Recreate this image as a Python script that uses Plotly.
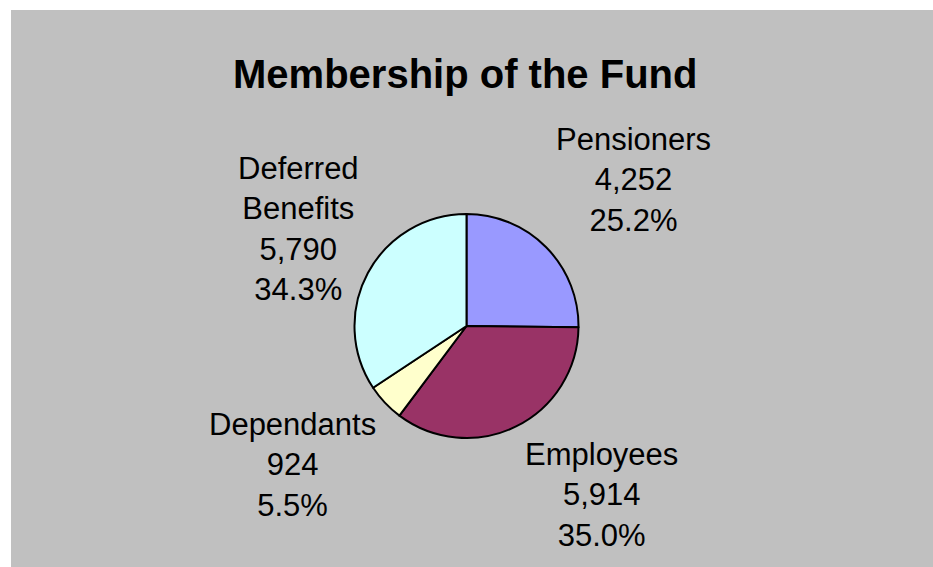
import plotly.graph_objects as go

# Fund membership by category
categories = ["Pensioners", "Employees", "Dependants", "Deferred Benefits"]
members = [4252, 5914, 924, 5790]
slice_colors = ["#9999FF", "#993366", "#FFFFCC", "#CCFFFF"]
title_text = "Membership of the Fund"

W, H = 933, 567
FONT = "Liberation Sans, Arial, sans-serif"

# label block centres in pixels (x, y) for each category
label_pos = {
    "Pensioners": (633, 180),
    "Employees": (601, 495),
    "Dependants": (292, 465),
    "Deferred Benefits": (298, 229),
}

total = sum(members)

# pie geometry in pixels
cx, cy, r = 466.5, 326, 112

fig = go.Figure()
fig.add_trace(go.Pie(
    labels=categories,
    values=members,
    sort=False,
    direction="clockwise",
    rotation=0,
    marker=dict(colors=slice_colors, line=dict(color="black", width=2)),
    textinfo="none",
    hoverinfo="label+value+percent",
    showlegend=False,
    domain=dict(x=[(cx - r) / W, (cx + r) / W],
                y=[1 - (cy + r) / H, 1 - (cy - r) / H]),
))

annotations = []
for name, val in zip(categories, members):
    pct = val / total * 100
    head = name.replace(" ", "<br>")
    text = f"{head}<br>{val:,}<br>{pct:.1f}%"
    px, py = label_pos[name]
    annotations.append(dict(
        x=px / W, y=1 - py / H, xref="paper", yref="paper",
        xanchor="center", yanchor="middle", showarrow=False,
        text=text, align="center",
        font=dict(family=FONT, size=31, color="black"),
    ))

annotations.append(dict(
    x=465 / W, y=1 - 74 / H, xref="paper", yref="paper",
    xanchor="center", yanchor="middle", showarrow=False,
    text=f"<b>{title_text}</b>",
    font=dict(family=FONT, size=40, color="black"),
))

fig.update_layout(
    width=W, height=H,
    margin=dict(l=0, r=0, t=0, b=0),
    paper_bgcolor="white",
    annotations=annotations,
    shapes=[dict(type="rect", xref="paper", yref="paper",
                 x0=11 / W, x1=1, y0=0, y1=1 - 10 / H,
                 fillcolor="#C0C0C0", line=dict(width=0), layer="below")],
)

fig.write_html("out.html")
